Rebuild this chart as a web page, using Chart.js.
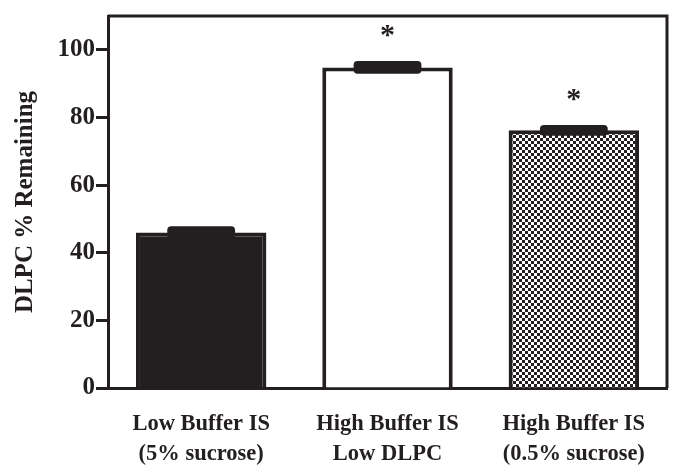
<!DOCTYPE html>
<html>
<head>
<meta charset="utf-8">
<script src="https://cdn.jsdelivr.net/npm/chart.js@4"></script>
<style>
  body { margin: 0; background: #fff; }
  #wrap { width: 685px; height: 475px; }
</style>
</head>
<body>
<div id="wrap"><canvas id="graphi" width="685" height="475"></canvas></div>
<script>
// datos
const categories = [["Low Buffer IS", "(5% sucrose)"], ["High Buffer IS", "Low DLPC"], ["High Buffer IS", "(0.5% sucrose)"]];
const remaining = [46.0, 94.8, 76.2];
const errores = [1.8, 1.9, 1.6];
const signif = ["", "*", "*"];
const yTicks = [0, 20, 40, 60, 80, 100];

// patron de cuadritos para la tercera barra
const makeChecker = () => {
    const c = document.createElement('canvas');
    c.width = 6; c.height = 6;
    const g = c.getContext('2d');
    g.fillStyle = '#fff';
    g.fillRect(0, 0, 6, 6);
    g.fillStyle = '#231f20';
    g.fillRect(0, 0, 3, 3);
    g.fillRect(3, 3, 3, 3);
    return document.getElementById('graphi').getContext('2d').createPattern(c, 'repeat');
}

const ink = '#231f20';
const serif = "'Liberation Serif', 'DejaVu Serif', serif";

// barras de error (media +/- error, gruesas) y asteriscos
const errorBars = {
    id: 'errorBars',
    afterDatasetsDraw(chart) {
        const ctx = chart.ctx;
        const yScale = chart.scales.y;
        const meta = chart.getDatasetMeta(0);
        ctx.save();
        meta.data.forEach((bar, i) => {
            const yTop = yScale.getPixelForValue(remaining[i] + errores[i]);
            const yBot = yScale.getPixelForValue(remaining[i] - errores[i]);
            const half = bar.width * 0.26;
            const h = Math.max(yBot - yTop, 5);
            ctx.fillStyle = ink;
            ctx.beginPath();
            ctx.roundRect(bar.x - half, yTop, half * 2, h, 4);
            ctx.fill();
            if (signif[i]) {
                ctx.font = "bold 30px " + serif;
                ctx.textAlign = 'center';
                ctx.textBaseline = 'middle';
                ctx.fillText(signif[i], bar.x, yTop - 25);
            }
        });
        ctx.restore();
    }
}

// marco arriba y a la derecha
const frame = {
    id: 'frame',
    afterDraw(chart) {
        const a = chart.chartArea;
        const ctx = chart.ctx;
        ctx.save();
        ctx.strokeStyle = ink;
        ctx.lineWidth = 3;
        ctx.beginPath();
        ctx.moveTo(a.left, a.top);
        ctx.lineTo(a.right, a.top);
        ctx.lineTo(a.right, a.bottom);
        ctx.stroke();
        ctx.restore();
    }
}

const renderChart = () => {
    const data = {
        labels: categories,
        datasets: [{
            data: remaining,
            backgroundColor: [ink, '#ffffff', makeChecker()],
            borderColor: ink,
            borderWidth: 4,
            borderSkipped: 'bottom',
            categoryPercentage: 0.7,
            barPercentage: 1.0
        }]
    }

    const options = {
        responsive: false,
        animation: false,
        layout: { padding: { top: 11, right: 18, left: 0, bottom: 0 } },
        plugins: {
            legend: { display: false },
            tooltip: { enabled: false }
        },
        scales: {
            x: {
                grid: { display: false, drawTicks: false },
                border: { display: true, color: ink, width: 3 },
                ticks: {
                    color: ink,
                    padding: 21,
                    font: { family: serif, size: 22.5, weight: 'bold', lineHeight: 1.33 }
                },
                afterFit: (s) => { s.height = 475 - 388; }
            },
            y: {
                min: 0,
                max: 110,
                afterBuildTicks: (s) => { s.ticks = yTicks.map(v => ({ value: v })); },
                grid: { drawOnChartArea: false, drawTicks: true, tickLength: 12, tickWidth: 3, color: ink },
                border: { display: true, color: ink, width: 3 },
                ticks: {
                    color: ink,
                    padding: 1,
                    font: { family: serif, size: 25, weight: 'bold' }
                },
                title: {
                    display: true,
                    text: 'DLPC % Remaining',
                    color: ink,
                    padding: { top: 11, bottom: 0 },
                    font: { family: serif, size: 25, weight: 'bold' }
                },
                afterFit: (s) => { s.width = 108; }
            }
        }
    }
    new Chart('graphi', { type: 'bar', data, options, plugins: [errorBars, frame] })
}

renderChart();
</script>
</body>
</html>
